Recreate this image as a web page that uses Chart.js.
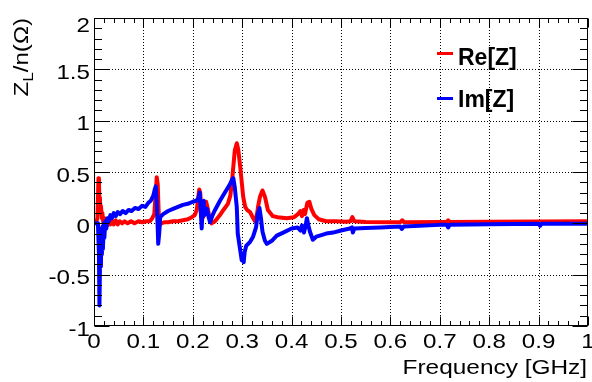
<!DOCTYPE html>
<html><head><meta charset="utf-8">
<script src="https://cdn.jsdelivr.net/npm/chart.js@4/dist/chart.umd.min.js"></script>
<style>html,body{margin:0;padding:0;background:#fff;}canvas{display:block;}</style>
</head><body>
<canvas id="c" width="592" height="382"></canvas>
<script>
const seriesLabels = ["Re[Z]", "Im[Z]"];
const seriesColors = ["#ff0000", "#0000ff"];

const reFreq = [0,0.004,0.007,0.009,0.010,0.011,0.012,0.013,0.014,0.016,0.017,0.019,0.021,0.023,0.025,0.027,0.030,0.033,0.036,0.040,0.044,0.048,0.052,0.057,0.062,0.068,0.075,0.082,0.090,0.098,0.106,0.113,0.118,0.122,0.125,0.127,0.129,0.131,0.133,0.136,0.142,0.150,0.160,0.170,0.180,0.190,0.198,0.204,0.208,0.211,0.213,0.215,0.218,0.221,0.224,0.227,0.230,0.234,0.238,0.245,0.255,0.262,0.271,0.276,0.279,0.282,0.285,0.289,0.292,0.296,0.302,0.306,0.310,0.316,0.321,0.326,0.330,0.332,0.336,0.341,0.346,0.352,0.362,0.372,0.390,0.405,0.413,0.418,0.421,0.424,0.427,0.432,0.436,0.440,0.446,0.455,0.470,0.490,0.510,0.519,0.523,0.527,0.550,0.600,0.620,0.624,0.628,0.700,0.714,0.717,0.720,0.800,0.900,1.000];
const reVal  = [0,0.01,0.05,0.44,0.42,0.17,0.25,0.12,0.17,0.05,0.10,0.0,0.05,-0.01,0.04,-0.02,0.03,-0.01,0.03,-0.01,0.03,-0.01,0.02,0.0,0.02,0.0,0.02,0.0,0.02,0.01,0.02,0.02,0.05,0.09,0.30,0.45,0.38,0.10,-0.02,0.0,0.01,0.01,0.02,0.02,0.03,0.04,0.06,0.08,0.13,0.25,0.33,0.30,0.10,0.06,0.15,0.21,0.15,0.05,0.0,0.02,0.08,0.13,0.19,0.27,0.39,0.55,0.71,0.78,0.72,0.55,0.26,0.16,0.13,0.11,0.06,0.02,0.09,0.16,0.26,0.32,0.26,0.13,0.07,0.06,0.05,0.06,0.09,0.12,0.07,0.13,0.09,0.20,0.21,0.14,0.08,0.04,0.02,0.02,0.015,0.02,0.06,0.02,0.012,0.01,0.012,0.03,0.01,0.012,0.012,0.03,0.012,0.015,0.018,0.02];

const imFreq = [0,0.005,0.008,0.010,0.011,0.012,0.013,0.014,0.015,0.016,0.017,0.018,0.020,0.021,0.023,0.025,0.027,0.030,0.033,0.036,0.040,0.044,0.048,0.053,0.058,0.064,0.070,0.076,0.083,0.090,0.097,0.104,0.110,0.115,0.120,0.123,0.125,0.127,0.129,0.130,0.132,0.134,0.140,0.150,0.160,0.170,0.180,0.190,0.200,0.207,0.211,0.214,0.216,0.218,0.220,0.222,0.224,0.226,0.229,0.232,0.235,0.240,0.245,0.255,0.265,0.274,0.280,0.282,0.285,0.289,0.291,0.295,0.299,0.301,0.303,0.305,0.308,0.316,0.322,0.328,0.331,0.335,0.338,0.341,0.346,0.350,0.360,0.370,0.383,0.400,0.412,0.418,0.421,0.425,0.428,0.431,0.434,0.437,0.443,0.450,0.457,0.470,0.484,0.500,0.518,0.522,0.524,0.527,0.550,0.580,0.620,0.623,0.627,0.700,0.714,0.717,0.720,0.800,0.900,0.903,0.906,1.000];
const imVal  = [0,0,0,-0.3,-0.8,-0.8,-0.1,-0.42,-0.05,-0.3,-0.03,-0.25,0.0,-0.14,0.02,-0.05,0.05,0.02,0.08,0.05,0.10,0.07,0.11,0.09,0.12,0.10,0.13,0.12,0.15,0.14,0.17,0.16,0.20,0.22,0.27,0.33,0.36,0.20,-0.05,-0.20,-0.10,0.06,0.09,0.12,0.14,0.16,0.18,0.19,0.21,0.22,0.24,0.30,0.12,-0.05,0.15,0.22,0.08,0.12,0.14,0.06,0.01,0.08,0.13,0.22,0.30,0.37,0.43,0.44,0.35,0.16,-0.10,-0.23,-0.36,-0.30,-0.38,-0.28,-0.22,-0.18,-0.13,-0.04,0.08,0.15,0.05,-0.08,-0.17,-0.20,-0.17,-0.12,-0.09,-0.05,-0.04,-0.07,-0.02,-0.09,-0.03,0.05,-0.02,-0.08,-0.16,-0.13,-0.12,-0.10,-0.09,-0.07,-0.05,-0.04,-0.09,-0.05,-0.045,-0.04,-0.03,-0.055,-0.03,-0.015,-0.015,-0.04,-0.015,-0.01,-0.005,-0.025,-0.005,-0.005];

const xTicks = [0,0.1,0.2,0.3,0.4,0.5,0.6,0.7,0.8,0.9,1];
const xTickLabels = ["0","0.1","0.2","0.3","0.4","0.5","0.6","0.7","0.8","0.9","1"];
const yTicks = [-1,-0.5,0,0.5,1,1.5,2];
const yTickLabels = ["-1","-0.5","0","0.5","1","1.5","2"];
const xTitle = "Frequency [GHz]";
const yTitleParts = ["Z","L","/n(\u03A9)"];

function pts(xs, ys){ return xs.map((x,i)=>({x:x, y:ys[i]})); }

const FONT = '"Liberation Sans", Arial, sans-serif';

const rootStyle = {
  id: 'rootStyle',
  beforeDatasetsDraw(chart){
    const ctx = chart.ctx, a = chart.chartArea, xs = chart.scales.x, ys = chart.scales.y;
    ctx.save();
    ctx.strokeStyle = '#000'; ctx.lineWidth = 1; ctx.setLineDash([1,2]);
    ctx.beginPath();
    xTicks.forEach(v=>{ const p = Math.round(xs.getPixelForValue(v))+0.5; if (p > a.left+2 && p < a.right-2){ ctx.moveTo(p, a.top); ctx.lineTo(p, a.bottom);} });
    yTicks.forEach(v=>{ const p = Math.round(ys.getPixelForValue(v))+0.5; if (p > a.top+2 && p < a.bottom-2){ ctx.moveTo(a.left, p); ctx.lineTo(a.right, p);} });
    ctx.stroke();
    ctx.restore();
  },
  afterDatasetsDraw(chart){
    const ctx = chart.ctx, a = chart.chartArea, xs = chart.scales.x, ys = chart.scales.y;
    const L = Math.round(a.left)+0.5, R = Math.round(a.right)-0.5, T = Math.round(a.top)+0.5, B = Math.round(a.bottom)-0.5;
    ctx.save();
    ctx.strokeStyle = '#000'; ctx.lineWidth = 1; ctx.setLineDash([]);
    ctx.strokeRect(L, T, R-L, B-T);
    ctx.beginPath();
    for (let i=0;i<xTicks.length;i++){
      const p = Math.round(xs.getPixelForValue(xTicks[i]))+0.5;
      ctx.moveTo(p,B); ctx.lineTo(p,B-9); ctx.moveTo(p,T); ctx.lineTo(p,T+9);
      if (i < xTicks.length-1){
        for (let k=1;k<5;k++){
          const v = xTicks[i] + (xTicks[i+1]-xTicks[i])*k/5;
          const q = Math.round(xs.getPixelForValue(v))+0.5;
          ctx.moveTo(q,B); ctx.lineTo(q,B-4.5); ctx.moveTo(q,T); ctx.lineTo(q,T+4.5);
        }
      }
    }
    for (let i=0;i<yTicks.length;i++){
      const p = Math.round(ys.getPixelForValue(yTicks[i]))+0.5;
      ctx.moveTo(L,p); ctx.lineTo(L+15,p); ctx.moveTo(R,p); ctx.lineTo(R-15,p);
      if (i < yTicks.length-1){
        for (let k=1;k<5;k++){
          const v = yTicks[i] + (yTicks[i+1]-yTicks[i])*k/5;
          const q = Math.round(ys.getPixelForValue(v))+0.5;
          ctx.moveTo(L,q); ctx.lineTo(L+7.5,q); ctx.moveTo(R,q); ctx.lineTo(R-7.5,q);
        }
      }
    }
    ctx.stroke();

    ctx.fillStyle = '#000';
    ctx.font = '21px ' + FONT;
    ctx.textBaseline = 'alphabetic';
    const sx = 1.15;
    ctx.textAlign = 'center';
    xTicks.forEach((v,i)=>{
      const p = xs.getPixelForValue(v);
      ctx.save(); ctx.translate(p, 348); ctx.scale(sx,1); ctx.fillText(xTickLabels[i],0,0); ctx.restore();
    });
    ctx.textAlign = 'right';
    yTicks.forEach((v,i)=>{
      const p = ys.getPixelForValue(v);
      const off = (v === ys.max) ? 14 : 9.5;
      ctx.save(); ctx.translate(90, p+off); ctx.scale(sx,1); ctx.fillText(yTickLabels[i],0,0); ctx.restore();
    });

    ctx.font = '20px ' + FONT;
    ctx.textAlign = 'right';
    ctx.save(); ctx.translate(587, 374); ctx.scale(1.22,1); ctx.fillText(xTitle,0,0); ctx.restore();

    ctx.save();
    ctx.translate(28, 18);
    ctx.rotate(-Math.PI/2);
    ctx.scale(1.15,1);
    ctx.textAlign = 'left';
    ctx.font = '21px ' + FONT; const w0 = ctx.measureText(yTitleParts[0]).width; const w2 = ctx.measureText(yTitleParts[2]).width;
    ctx.font = '15px ' + FONT; const w1 = ctx.measureText(yTitleParts[1]).width;
    let s = -(w0+w1+w2);
    ctx.font = '21px ' + FONT; ctx.fillText(yTitleParts[0], s, 0);
    ctx.font = '15px ' + FONT; ctx.fillText(yTitleParts[1], s+w0, 5);
    ctx.font = '21px ' + FONT; ctx.fillText(yTitleParts[2], s+w0+w1, 0);
    ctx.restore();

    const legY = [53.5, 98.5], legBase = [65, 107];
    ctx.font = 'bold 23px ' + FONT;
    ctx.textAlign = 'left';
    seriesLabels.forEach((lab,i)=>{
      ctx.strokeStyle = seriesColors[i]; ctx.lineWidth = 3;
      ctx.beginPath(); ctx.moveTo(437, legY[i]); ctx.lineTo(453, legY[i]); ctx.stroke();
      ctx.fillStyle = '#000';
      ctx.fillText(lab, 458, legBase[i]);
    });
    ctx.restore();
  }
};

new Chart(document.getElementById('c'), {
  type: 'scatter',
  data: {
    datasets: [
      { label: seriesLabels[0], data: pts(reFreq, reVal), showLine: true, borderColor: seriesColors[0], backgroundColor: seriesColors[0], borderWidth: 4, borderJoinStyle: 'round', borderCapStyle: 'round', pointRadius: 0, tension: 0, order: 1 },
      { label: seriesLabels[1], data: pts(imFreq, imVal), showLine: true, borderColor: seriesColors[1], backgroundColor: seriesColors[1], borderWidth: 4, borderJoinStyle: 'round', borderCapStyle: 'round', pointRadius: 0, tension: 0, order: 0 }
    ]
  },
  options: {
    responsive: false,
    animation: false,
    devicePixelRatio: 1,
    layout: { padding: { top: 18, right: 4, left: 0, bottom: 0 } },
    plugins: { legend: { display: false }, tooltip: { enabled: false } },
    scales: {
      x: { type: 'linear', min: 0, max: 1, grid: { display: false }, border: { display: false }, ticks: { display: false },
           afterFit(s){ s.height = 56; s.paddingLeft = 0; s.paddingRight = 0; } },
      y: { type: 'linear', min: -1, max: 2, grid: { display: false }, border: { display: false }, ticks: { display: false },
           afterFit(s){ s.width = 94; s.paddingTop = 0; s.paddingBottom = 0; } }
    }
  },
  plugins: [rootStyle]
});
</script>
</body></html>
